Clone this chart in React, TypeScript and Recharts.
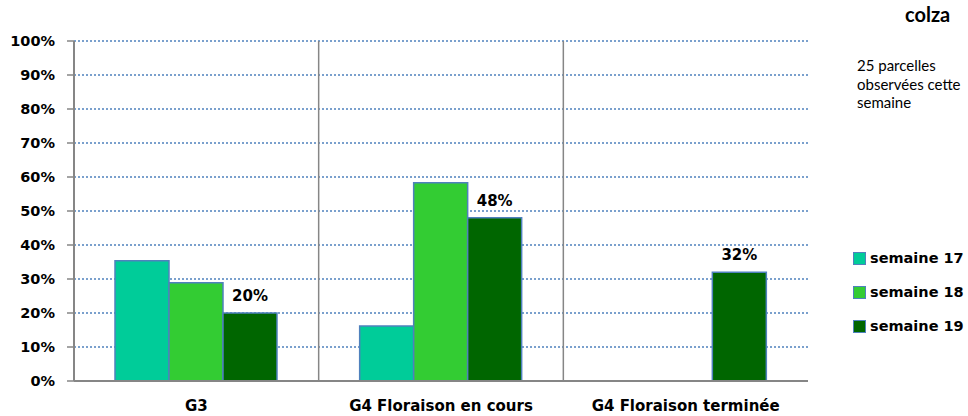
import { BarChart, Bar, XAxis, YAxis, CartesianGrid, LabelList } from 'recharts';

// stades observés
const categories = ['G3', 'G4 Floraison en cours', 'G4 Floraison terminée'];
const semaine17 = [35.4, 16.2, 0];
const semaine18 = [28.9, 58.3, 0];
const semaine19 = [20, 48, 32];
const yTicks = [0, 10, 20, 30, 40, 50, 60, 70, 80, 90, 100];

const series = [
  { key: 's17', name: 'semaine 17', color: '#00CC99' },
  { key: 's18', name: 'semaine 18', color: '#33CC33' },
  { key: 's19', name: 'semaine 19', color: '#006600' },
];

const data = categories.map((c, i) => ({
  name: c,
  s17: semaine17[i],
  s18: semaine18[i],
  s19: semaine19[i],
}));

const tickFont = { fontFamily: 'DejaVu Sans', fontWeight: 700, fill: '#000' };

// lignes de séparation entre les catégories
const categoryBounds = ({ offset }: any) => {
  const out: number[] = [];
  for (let k = 1; k < categories.length; k++) {
    out.push(offset.left + (offset.width * k) / categories.length);
  }
  return out;
};

export default function App() {
  return (
    <div style={{ position: 'absolute', left: 0, top: 0, width: 968, height: 416, background: '#fff' }}>
      <BarChart
        width={968}
        height={416}
        data={data}
        margin={{ top: 41, right: 160, bottom: 10, left: 8 }}
        barCategoryGap={41}
        barGap={0}
      >
        <CartesianGrid vertical={false} stroke="#4f81bd" strokeDasharray="2 2" strokeWidth={1.5} />
        <CartesianGrid
          horizontal={false}
          stroke="#868686"
          strokeWidth={1.5}
          verticalCoordinatesGenerator={categoryBounds}
        />
        <XAxis
          dataKey="name"
          tickLine={false}
          axisLine={{ stroke: '#868686', strokeWidth: 2 }}
          tick={{ ...tickFont, fontSize: 15 }}
          tickMargin={13}
          height={25}
        />
        <YAxis
          domain={[0, 100]}
          ticks={yTicks}
          width={66}
          tickFormatter={(v) => `${v}%`}
          axisLine={{ stroke: '#868686', strokeWidth: 2 }}
          tickLine={{ stroke: '#868686', strokeWidth: 1.5 }}
          tickSize={7}
          tickMargin={12}
          tick={{ ...tickFont, fontSize: 14.5 }}
          interval={0}
        />
        {series.map((s) => (
          <Bar
            key={s.key}
            dataKey={s.key}
            name={s.name}
            fill={s.color}
            stroke="#4f81bd"
            strokeWidth={1.5}
            isAnimationActive={false}
          >
            {s.key === 's19' && (
              <LabelList
                dataKey="s19"
                position="top"
                offset={12}
                formatter={(v: any) => `${v}%`}
                style={{ ...tickFont, fontSize: 15 }}
              />
            )}
          </Bar>
        ))}
      </BarChart>

      <div style={{ position: 'absolute', left: 905, top: 2, fontFamily: 'Lato', fontWeight: 700, fontSize: 20 }}>
        colza
      </div>
      <div style={{ position: 'absolute', left: 857, top: 56, fontFamily: 'Lato', fontSize: 15, lineHeight: '18.5px', width: 112 }}>
        25 parcelles
        <br />
        observées cette
        <br />
        semaine
      </div>
      <div style={{ position: 'absolute', left: 853, top: 241 }}>
        {series.map((s) => (
          <div key={s.key} style={{ display: 'flex', alignItems: 'center', height: 34 }}>
            <span
              style={{
                display: 'inline-block',
                width: 11,
                height: 11,
                background: s.color,
                border: '1.5px solid #4f81bd',
                marginRight: 4,
              }}
            />
            <span style={{ fontFamily: 'DejaVu Sans', fontWeight: 700, fontSize: 14.5, color: '#000' }}>{s.name}</span>
          </div>
        ))}
      </div>
    </div>
  );
}
